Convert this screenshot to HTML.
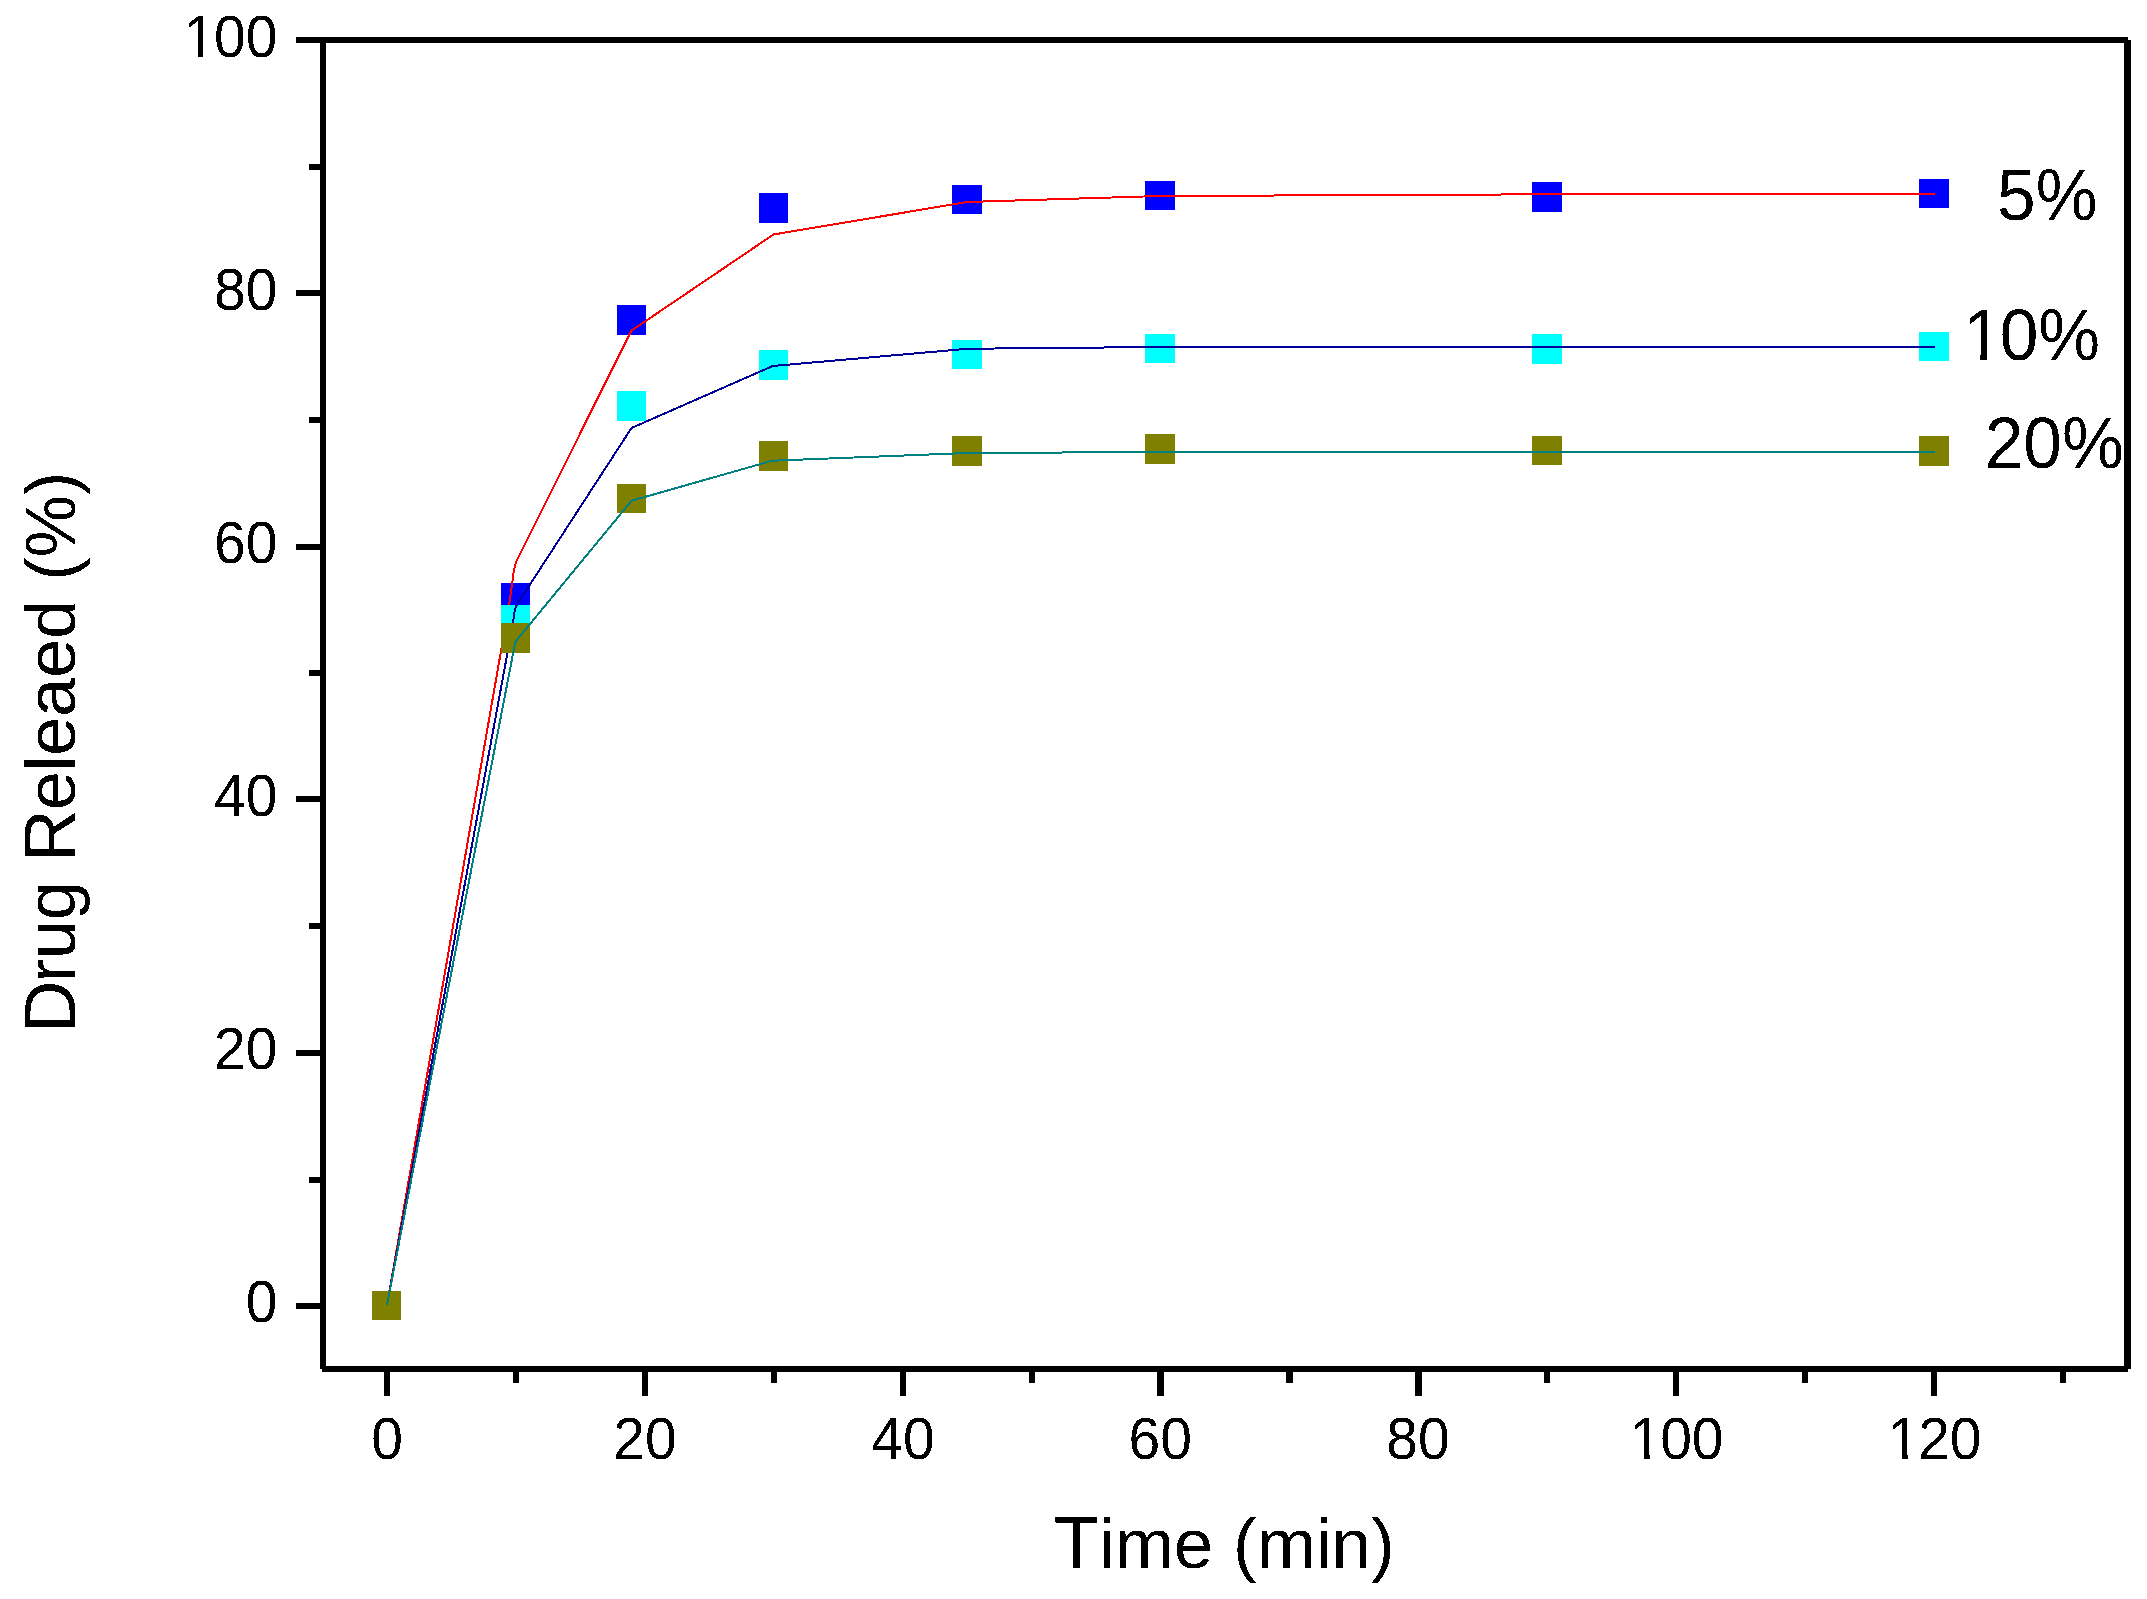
<!DOCTYPE html>
<html lang="en">
<head>
<meta charset="utf-8">
<title>Drug Release Profile</title>
<style>
html,body{margin:0;padding:0;background:#fff;}
body{width:2147px;height:1599px;overflow:hidden;}
svg{display:block;}
text{font-family:"Liberation Sans",sans-serif;fill:#000;font-kerning:none;font-variant-ligatures:none;}
.title{font-size:71px;}
</style>
</head>
<body>
<svg width="2147" height="1599" viewBox="0 0 2147 1599">
<defs><filter id="alias" x="0" y="0" width="2147" height="1599" filterUnits="userSpaceOnUse" color-interpolation-filters="sRGB"><feComponentTransfer><feFuncA type="discrete" tableValues="0 1"/></feComponentTransfer></filter>
<clipPath id="one" clipPathUnits="userSpaceOnUse"><rect x="-20" y="-80" width="90" height="72.4"/><rect x="24.5" y="-10" width="10.2" height="12"/></clipPath></defs>
<rect x="0" y="0" width="2147" height="1599" fill="#fff"/>
<g shape-rendering="crispEdges">
<rect x="372" y="1291" width="29" height="29" fill="#0000ff"/>
<rect x="501" y="583" width="29" height="29" fill="#0000ff"/>
<rect x="617" y="305" width="29" height="30" fill="#0000ff"/>
<rect x="759" y="193" width="29" height="30" fill="#0000ff"/>
<rect x="952" y="185" width="30" height="29" fill="#0000ff"/>
<rect x="1145" y="181" width="30" height="29" fill="#0000ff"/>
<rect x="1532" y="182" width="30" height="30" fill="#0000ff"/>
<rect x="1919" y="179" width="30" height="29" fill="#0000ff"/>
<polyline points="387,1305 509,605 512.3,583 513,576 514,570.6 515,565.6 516,562 631.5,330.6 773.5,234.5 967,202 1160,196 1547,194.3 1935,193.8" fill="none" stroke="#ff0000" stroke-width="2" stroke-linejoin="round"/>
<rect x="372" y="1291" width="29" height="29" fill="#00ffff"/>
<rect x="501" y="605" width="29" height="29" fill="#00ffff"/>
<rect x="617" y="391" width="29" height="30" fill="#00ffff"/>
<rect x="759" y="350" width="29" height="30" fill="#00ffff"/>
<rect x="952" y="340" width="30" height="29" fill="#00ffff"/>
<rect x="1145" y="334" width="30" height="29" fill="#00ffff"/>
<rect x="1532" y="334" width="30" height="30" fill="#00ffff"/>
<rect x="1919" y="332" width="30" height="29" fill="#00ffff"/>
<polyline points="387,1305 513,623 514,615 515,609.4 516.25,606 518,603 631.5,428 772.75,366 968,348.75 1160,347 1547,347 1935,347" fill="none" stroke="#000099" stroke-width="2" stroke-linejoin="round"/>
<rect x="372" y="1291" width="29" height="29" fill="#808000"/>
<rect x="501" y="623" width="29" height="30" fill="#808000"/>
<rect x="617" y="484" width="29" height="29" fill="#808000"/>
<rect x="759" y="441" width="29" height="30" fill="#808000"/>
<rect x="952" y="436" width="30" height="30" fill="#808000"/>
<rect x="1145" y="434" width="30" height="30" fill="#808000"/>
<rect x="1532" y="436" width="30" height="29" fill="#808000"/>
<rect x="1919" y="436" width="30" height="30" fill="#808000"/>
<polyline points="387,1305 513.75,650 515,643.75 516.25,640.6 518.5,638 631.5,500.75 772,460.75 967,453 1160,452 1547,452 1935,452" fill="none" stroke="#008080" stroke-width="2" stroke-linejoin="round"/>
</g>
<g shape-rendering="crispEdges">
<rect x="296" y="37" width="1831.75" height="6" fill="#000"/>
<rect x="320" y="40" width="6" height="1329" fill="#000"/>
<rect x="322" y="1366" width="1805.75" height="6" fill="#000"/>
<rect x="2124" y="40" width="7" height="1329" fill="#000"/>
<rect x="296" y="1303" width="24" height="6" fill="#000"/>
<rect x="296" y="1050" width="24" height="6" fill="#000"/>
<rect x="296" y="796" width="24" height="6" fill="#000"/>
<rect x="296" y="544" width="24" height="6" fill="#000"/>
<rect x="296" y="290" width="24" height="6" fill="#000"/>
<rect x="309" y="1177" width="11" height="6" fill="#000"/>
<rect x="309" y="923" width="11" height="6" fill="#000"/>
<rect x="309" y="670" width="11" height="6" fill="#000"/>
<rect x="309" y="417" width="11" height="6" fill="#000"/>
<rect x="309" y="164" width="11" height="6" fill="#000"/>
<rect x="384" y="1372" width="6" height="24" fill="#000"/>
<rect x="513" y="1372" width="6" height="11" fill="#000"/>
<rect x="642" y="1372" width="6" height="24" fill="#000"/>
<rect x="771" y="1372" width="6" height="11" fill="#000"/>
<rect x="900" y="1372" width="6" height="24" fill="#000"/>
<rect x="1029" y="1372" width="6" height="11" fill="#000"/>
<rect x="1157" y="1372" width="7" height="24" fill="#000"/>
<rect x="1286" y="1372" width="7" height="11" fill="#000"/>
<rect x="1415" y="1372" width="7" height="24" fill="#000"/>
<rect x="1544" y="1372" width="6" height="11" fill="#000"/>
<rect x="1673" y="1372" width="6" height="24" fill="#000"/>
<rect x="1802" y="1372" width="6" height="11" fill="#000"/>
<rect x="1931" y="1372" width="6" height="24" fill="#000"/>
<rect x="2060" y="1372" width="6" height="11" fill="#000"/>
</g>
<g filter="url(#alias)">
<g class="tick">
<g><text transform="translate(245.81,1321.5) scale(1,1.04)" font-size="57">0</text></g>
<g><text transform="translate(214.12,1068.5) scale(1,1.04)" font-size="57">20</text></g>
<g><text transform="translate(214.12,815.5) scale(1,1.04)" font-size="57">40</text></g>
<g><text transform="translate(214.12,562.5) scale(1,1.04)" font-size="57">60</text></g>
<g><text transform="translate(214.12,309.5) scale(1,1.04)" font-size="57">80</text></g>
<g><text clip-path="url(#one)" transform="translate(183.72,57) scale(0.57,0.5928)" font-size="100">1</text><text transform="translate(214.12,57) scale(1,1.04)" font-size="57">00</text></g>
<g><text transform="translate(371.15,1459) scale(1,1.04)" font-size="57">0</text></g>
<g><text transform="translate(613.31,1459) scale(1,1.04)" font-size="57">20</text></g>
<g><text transform="translate(871.31,1459) scale(1,1.04)" font-size="57">40</text></g>
<g><text transform="translate(1128.51,1459) scale(1,1.04)" font-size="57">60</text></g>
<g><text transform="translate(1386.31,1459) scale(1,1.04)" font-size="57">80</text></g>
<g><text clip-path="url(#one)" transform="translate(1629.76,1459) scale(0.57,0.5928)" font-size="100">1</text><text transform="translate(1660.15,1459) scale(1,1.04)" font-size="57">00</text></g>
<g><text clip-path="url(#one)" transform="translate(1887.76,1459) scale(0.57,0.5928)" font-size="100">1</text><text transform="translate(1918.15,1459) scale(1,1.04)" font-size="57">20</text></g>
</g>
<g class="leg">
<g><text transform="translate(1997.00,220) scale(1,1.04)" font-size="69.5">5%</text></g>
<g><text clip-path="url(#one)" transform="translate(1963.26,359.5) scale(0.695,0.7228)" font-size="100">1</text><text transform="translate(1999.64,359.5) scale(1,1.04)" font-size="69.5">0%</text></g>
<g><text transform="translate(1984.70,468) scale(1,1.04)" font-size="69.5">20%</text></g>
</g>
<text class="title" x="1224.25" y="1568" text-anchor="middle"><tspan font-size="73.8">T</tspan>ime (min)</text>
<text class="title" style="font-size:70px" transform="translate(75,752.4) rotate(-90)" text-anchor="middle"><tspan font-size="72.8">D</tspan><tspan dx="-2">rug </tspan><tspan font-size="72.8">R</tspan><tspan dx="-1">eleaed (%)</tspan></text>
</g>
</svg>
</body>
</html>
